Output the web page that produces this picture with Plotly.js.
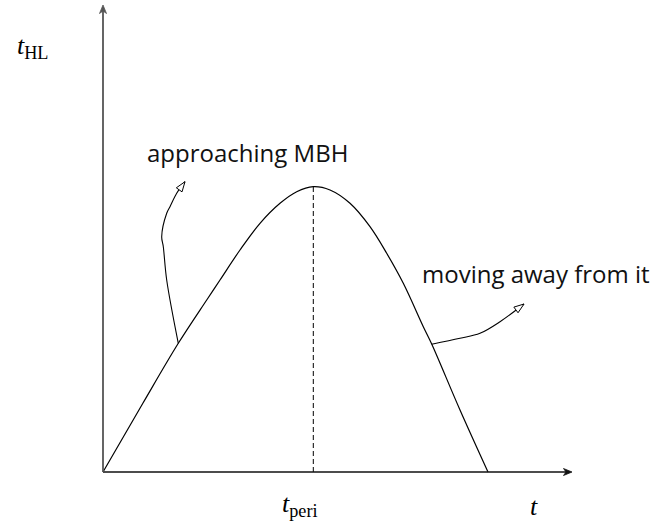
<!DOCTYPE html>
<html>
<head>
<meta charset="utf-8">
<script src="https://cdn.plot.ly/plotly-3.0.1.min.js"></script>
<style>
  html, body { margin: 0; padding: 0; background: #fff; }
  #plot { width: 671px; height: 523px; }
</style>
</head>
<body>
<div id="plot"></div>
<script>
// sketch of the horizon-lifetime curve, units are arbitrary (origin at 0,0)
const tVals = [0, 0.4, 0.753, 1.037, 1.17, 1.37, 1.57, 1.77, 1.937, 2.103, 2.27, 2.47, 2.67, 2.837, 3.003, 3.203, 3.287, 3.57, 3.85];
const tHL   = [0, 0.69, 1.287, 1.72, 1.92, 2.22, 2.487, 2.687, 2.803, 2.853, 2.82, 2.687, 2.453, 2.187, 1.887, 1.453, 1.28, 0.62, 0];
const tPeri = 2.103;
const tPeak = 2.853;

// pointer curves from the curve to the labels
const leftPtrX  = [0.753, 0.637, 0.603, 0.587, 0.637, 0.67, 0.737, 0.82];
const leftPtrY  = [1.287, 1.92, 2.253, 2.353, 2.587, 2.653, 2.787, 2.903];
const rightPtrX = [3.287, 3.57, 3.77, 3.97, 4.21];
const rightPtrY = [1.277, 1.337, 1.387, 1.503, 1.68];

const labels = ['approaching MBH', 'moving away from it'];
const axisEnd = {x: 4.69, y: 4.67};

function pt(x, y) { return x.toFixed(4) + ',' + y.toFixed(4); }

// open triangle head at the end of a pointer
function headPath(xs, ys) {
  let n = xs.length;
  let tx = xs[n - 1], ty = ys[n - 1];
  let dx = tx - xs[n - 2], dy = ty - ys[n - 2];
  let len = Math.sqrt(dx * dx + dy * dy);
  dx /= len; dy /= len;
  let L = 0.10, W = 0.035;
  let bx = tx - dx * L, by = ty - dy * L;
  return 'M' + pt(tx, ty) + ' L' + pt(bx - dy * W, by + dx * W) +
         ' L' + pt(bx + dy * W, by - dx * W) + ' Z';
}

// barbed arrow head for the axes, dir = [dx, dy] unit vector
function axisHead(tx, ty, dir) {
  let L = 0.085, W = 0.035, N = 0.06;
  let dx = dir[0], dy = dir[1];
  let bx = tx - dx * L, by = ty - dy * L;
  let nx = tx - dx * N, ny = ty - dy * N;
  return 'M' + pt(tx, ty) + ' L' + pt(bx - dy * W, by + dx * W) +
         ' L' + pt(nx, ny) + ' L' + pt(bx + dy * W, by - dx * W) + ' Z';
}

let curve = {
  x: tVals, y: tHL, mode: 'lines', type: 'scatter',
  line: {color: 'black', width: 1.2, shape: 'spline', smoothing: 1},
  hoverinfo: 'skip'
};
let peri = {
  x: [tPeri, tPeri], y: [0, tPeak], mode: 'lines', type: 'scatter',
  line: {color: 'black', width: 1, dash: '5px,3px'},
  hoverinfo: 'skip'
};
let ptr1 = {
  x: leftPtrX, y: leftPtrY, mode: 'lines', type: 'scatter',
  line: {color: 'black', width: 1.1, shape: 'spline'}, hoverinfo: 'skip'
};
let ptr2 = {
  x: rightPtrX, y: rightPtrY, mode: 'lines', type: 'scatter',
  line: {color: 'black', width: 1.1, shape: 'spline'}, hoverinfo: 'skip'
};

let serif = {family: 'Liberation Serif, serif', size: 26, color: 'black'};
let sans = {family: 'Open Sans, sans-serif', size: 24, color: '#111'};

let layout = {
  width: 671, height: 523,
  margin: {l: 0, r: 0, t: 0, b: 0},
  paper_bgcolor: 'white', plot_bgcolor: 'white',
  showlegend: false,
  xaxis: {range: [-1.03, 5.68], visible: false, fixedrange: true},
  yaxis: {range: [-0.51, 4.72], visible: false, fixedrange: true},
  shapes: [
    // axes
    {type: 'line', xref: 'x', yref: 'y', x0: 0, y0: 0, x1: axisEnd.x - 0.05, y1: 0,
     line: {color: '#111', width: 1.5}},
    {type: 'line', xref: 'x', yref: 'y', x0: 0, y0: 0, x1: 0, y1: axisEnd.y - 0.05,
     line: {color: '#555', width: 1.8}},
    {type: 'path', xref: 'x', yref: 'y', path: axisHead(axisEnd.x, 0, [1, 0]),
     fillcolor: '#111', line: {color: '#111', width: 0.8}},
    {type: 'path', xref: 'x', yref: 'y', path: axisHead(0, axisEnd.y, [0, 1]),
     fillcolor: '#555', line: {color: '#555', width: 0.8}},
    // pointer heads
    {type: 'path', path: headPath(leftPtrX, leftPtrY), xref: 'x', yref: 'y',
     fillcolor: 'white', line: {color: 'black', width: 1}},
    {type: 'path', path: headPath(rightPtrX, rightPtrY), xref: 'x', yref: 'y',
     fillcolor: 'white', line: {color: 'black', width: 1}}
  ],
  annotations: [
    // axis labels
    {x: -0.71, y: 4.25, xref: 'x', yref: 'y', showarrow: false,
     text: '<i>t</i><sub>HL</sub>', font: serif},
    {x: tPeri - 0.13, y: -0.33, xref: 'x', yref: 'y', showarrow: false,
     text: '<i>t</i><sub>peri</sub>', font: serif},
    {x: 4.31, y: -0.34, xref: 'x', yref: 'y', showarrow: false,
     text: '<i>t</i>', font: serif},
    // text labels
    {x: 1.445, y: 3.20, xref: 'x', yref: 'y', showarrow: false, text: labels[0], font: sans},
    {x: 4.33, y: 1.99, xref: 'x', yref: 'y', showarrow: false, text: labels[1], font: sans}
  ]
};

Plotly.newPlot('plot', [peri, curve, ptr1, ptr2], layout, {displayModeBar: false, staticPlot: true});
</script>
</body>
</html>
